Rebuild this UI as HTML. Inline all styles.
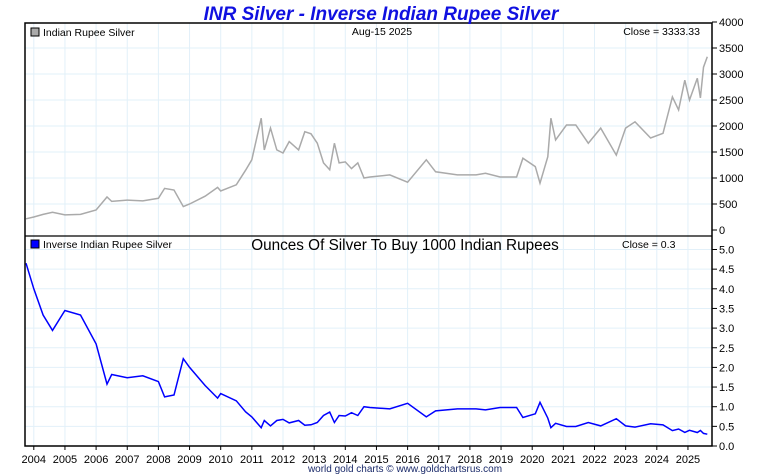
<!DOCTYPE html>
<html><head><meta charset="utf-8"><style>
body{margin:0;background:#fff;}
svg{display:block;font-family:"Liberation Sans",sans-serif;}
</style></head><body>
<svg id="c" width="760" height="475" viewBox="0 0 760 475"></svg>
<script>
const years=[2004,2005,2006,2007,2008,2009,2010,2011,2012,2013,2014,2015,2016,2017,2018,2019,2020,2021,2022,2023,2024,2025];
const topTicks=[0,500,1000,1500,2000,2500,3000,3500,4000];
const botTicks=[0,0.5,1,1.5,2,2.5,3,3.5,4,4.5,5];
const dates=[2003.75,2004.0,2004.3,2004.6,2005.0,2005.5,2006.0,2006.35,2006.5,2007.0,2007.5,2008.0,2008.2,2008.5,2008.8,2009.0,2009.5,2009.9,2010.0,2010.5,2010.8,2011.0,2011.3,2011.4,2011.6,2011.8,2012.0,2012.2,2012.5,2012.7,2012.9,2013.1,2013.3,2013.5,2013.65,2013.8,2014.0,2014.2,2014.4,2014.6,2014.79,2015.43,2016.0,2016.6,2016.9,2017.6,2018.2,2018.5,2018.97,2019.5,2019.7,2020.1,2020.25,2020.5,2020.6,2020.75,2021.1,2021.4,2021.8,2022.2,2022.7,2023.0,2023.3,2023.8,2024.2,2024.5,2024.7,2024.9,2025.05,2025.3,2025.4,2025.5,2025.62];
const prices=[215,250,300,340,290,300,385,635,550,575,560,610,800,770,450,500,650,820,750,870,1150,1350,2150,1540,1960,1540,1480,1700,1540,1890,1850,1670,1290,1160,1670,1290,1310,1180,1290,1000,1020,1060,920,1350,1120,1060,1060,1090,1020,1020,1380,1220,900,1410,2150,1730,2020,2020,1670,1960,1440,1960,2080,1770,1860,2560,2310,2880,2500,2920,2540,3130,3333];
const inverse=prices.map(p=>1000/p);

const svg=document.getElementById('c');
const NS='http://www.w3.org/2000/svg';
const L=25,R=712,T=23,MID=236,B=446;
const x=t=>33.8+(t-2004)*31.15;
const yTop=v=>230-v*0.052;
const yBot=v=>446-v*39.3;
function mk(tag,attrs,parent){const e=document.createElementNS(NS,tag);for(const k in attrs)e.setAttribute(k,attrs[k]);(parent||svg).appendChild(e);return e;}

const grid=mk('g',{});


years.forEach(yr=>{const xx=x(yr);mk('line',{x1:xx,x2:xx,y1:T,y2:B,stroke:'#e2f0f9','stroke-width':1},grid);});
topTicks.forEach(v=>{if(v>0&&v<4000){const yy=yTop(v);mk('line',{x1:L,x2:R,y1:yy,y2:yy,stroke:'#e2f0f9'},grid);}});
botTicks.forEach(v=>{if(v>0){const yy=yBot(v);mk('line',{x1:L,x2:R,y1:yy,y2:yy,stroke:'#e2f0f9'},grid);}});

const ptsTop=dates.map((d,i)=>x(d).toFixed(1)+','+yTop(prices[i]).toFixed(1)).join(' ');
const lt=mk('polyline',{points:ptsTop,fill:'none',stroke:'#aaaaaa','stroke-width':1.5});


const ptsBot=dates.map((d,i)=>x(d).toFixed(1)+','+yBot(inverse[i]).toFixed(1)).join(' ');
const lb=mk('polyline',{points:ptsBot,fill:'none',stroke:'#0000ff','stroke-width':1.5});



mk('rect',{x:L,y:T,width:R-L,height:B-T,fill:'none',stroke:'#000','stroke-width':1.5});
mk('line',{x1:L,x2:R,y1:MID,y2:MID,stroke:'#000','stroke-width':1.2});

const ax=mk('g',{'font-size':11,fill:'#000'});


topTicks.forEach(v=>{const yy=yTop(v);mk('line',{x1:R,x2:R+5,y1:yy,y2:yy,stroke:'#000'},ax);const t=mk('text',{x:R+7,y:yy+4},ax);t.textContent=v;});
botTicks.forEach(v=>{const yy=yBot(v);mk('line',{x1:R,x2:R+5,y1:yy,y2:yy,stroke:'#000'},ax);const t=mk('text',{x:R+7,y:yy+4},ax);t.textContent=v.toFixed(1);});
const xa=mk('g',{'font-size':11,fill:'#000','text-anchor':'middle'});


years.forEach(yr=>{const xx=x(yr);mk('line',{x1:xx,x2:xx,y1:B,y2:B+4,stroke:'#000'},xa);const t=mk('text',{x:xx,y:463},xa);t.textContent=yr;});
</script>
<script>
(function(){
const svg=document.getElementById('c');const NS='http://www.w3.org/2000/svg';
function txt(s,a,name){const e=document.createElementNS(NS,'text');for(const k in a)e.setAttribute(k,a[k]);e.textContent=s;svg.appendChild(e);return e;}
txt('INR Silver - Inverse Indian Rupee Silver',{x:381,y:20,'font-size':19,'font-weight':'bold','font-style':'italic',fill:'#1010e0','text-anchor':'middle'},'chart-title');
const r1=document.createElementNS(NS,'rect');r1.setAttribute('x',31);r1.setAttribute('y',28);r1.setAttribute('width',8);r1.setAttribute('height',8);r1.setAttribute('fill','#aaa');r1.setAttribute('stroke','#000');svg.appendChild(r1);
txt('Indian Rupee Silver',{x:43,y:36,'font-size':10.5},'legend-price');
txt('Aug-15  2025',{x:382,y:35,'font-size':10.5,'text-anchor':'middle'},'date-label');
txt('Close = 3333.33',{x:700,y:35,'font-size':10.5,'text-anchor':'end'},'close-price');
const r2=document.createElementNS(NS,'rect');r2.setAttribute('x',31);r2.setAttribute('y',240);r2.setAttribute('width',8);r2.setAttribute('height',8);r2.setAttribute('fill','#0000ff');r2.setAttribute('stroke','#000');svg.appendChild(r2);
txt('Inverse Indian Rupee Silver',{x:43,y:248,'font-size':10.5},'legend-inverse');
txt('Ounces Of Silver To Buy 1000 Indian Rupees',{x:405,y:250,'font-size':15.3,'text-anchor':'middle'},'bottom-subtitle');
txt('Close = 0.3',{x:622,y:248,'font-size':10.5},'close-inverse');
txt('world gold charts © www.goldchartsrus.com',{x:405,y:472,'font-size':10,'text-anchor':'middle',fill:'#1a2a6a'},'footer-credit');
})();
</script>
</body></html>
